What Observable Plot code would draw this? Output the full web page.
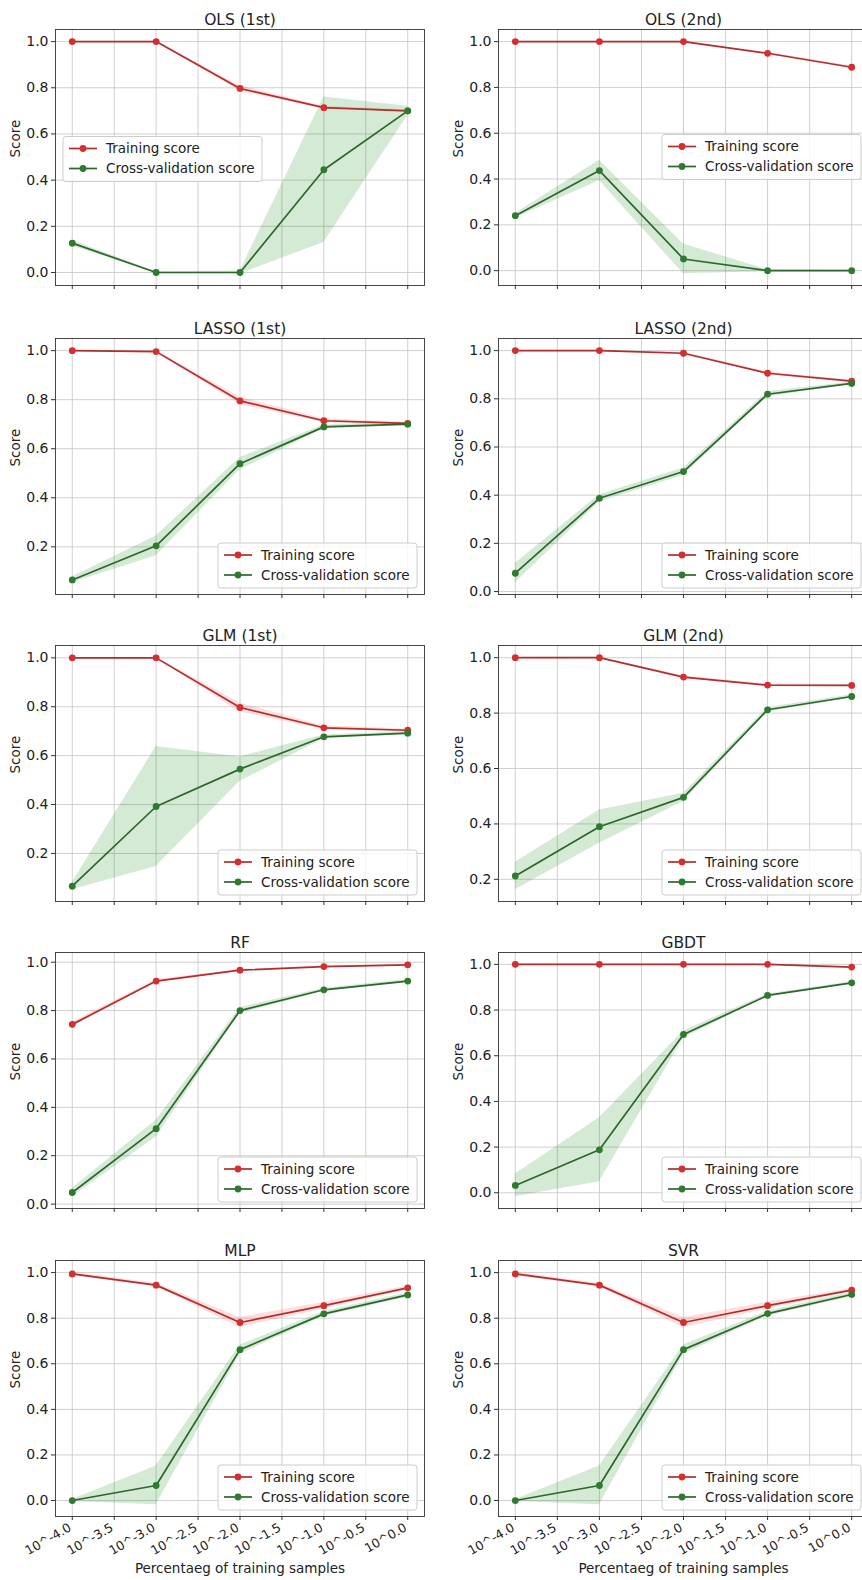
<!DOCTYPE html>
<html><head><meta charset="utf-8">
<script src="https://cdn.jsdelivr.net/npm/d3@7"></script>
<script src="https://cdn.jsdelivr.net/npm/@observablehq/plot@0.6"></script>
<style>
html,body{margin:0;padding:0;background:#fff;overflow:hidden;width:862px;height:1580px;}
#root{position:relative;width:880px;height:1580px;}
.panel{position:absolute;}
</style></head><body><div id="root"></div>
<script>
// ---- data ----
const xValues = [-4, -3, -2, -1, 0];
const xTicks = [-4, -3.5, -3, -2.5, -2, -1.5, -1, -0.5, 0];
const xTickLabels = ["10^-4.0","10^-3.5","10^-3.0","10^-2.5","10^-2.0","10^-1.5","10^-1.0","10^-0.5","10^0.0"];
const yTicks = [0, 0.2, 0.4, 0.6, 0.8, 1.0];
const seriesNames = ["Training score", "Cross-validation score"];
const xLabel = "Percentaeg of training samples";
const yLabel = "Score";

const ols1Train = [1.0, 1.0, 0.797, 0.714, 0.70];
const ols1TrainStd = [0.002, 0.002, 0.012, 0.006, 0.005];
const ols1Cv = [0.127, 0.0, 0.0, 0.445, 0.70];
const ols1CvStd = [0.012, 0.003, 0.006, 0.315, 0.02];

const ols2Train = [1.0, 1.0, 1.0, 0.949, 0.888];
const ols2TrainStd = [0.001, 0.001, 0.002, 0.004, 0.005];
const ols2Cv = [0.24, 0.437, 0.051, 0.0, 0.0];
const ols2CvStd = [0.01, 0.045, 0.065, 0.004, 0.003];

const lasso1Train = [1.0, 0.996, 0.795, 0.714, 0.703];
const lasso1TrainStd = [0.002, 0.005, 0.015, 0.008, 0.005];
const lasso1Cv = [0.065, 0.204, 0.539, 0.689, 0.70];
const lasso1CvStd = [0.012, 0.04, 0.025, 0.008, 0.006];

const lasso2Train = [1.0, 1.0, 0.989, 0.906, 0.873];
const lasso2TrainStd = [0.001, 0.002, 0.004, 0.006, 0.005];
const lasso2Cv = [0.076, 0.387, 0.498, 0.819, 0.864];
const lasso2CvStd = [0.04, 0.015, 0.015, 0.01, 0.006];

const glm1Train = [1.0, 1.0, 0.797, 0.714, 0.704];
const glm1TrainStd = [0.002, 0.003, 0.018, 0.008, 0.005];
const glm1Cv = [0.066, 0.392, 0.545, 0.677, 0.692];
const glm1CvStd = [0.015, 0.245, 0.05, 0.008, 0.006];

const glm2Train = [1.0, 1.0, 0.93, 0.901, 0.90];
const glm2TrainStd = [0.001, 0.002, 0.005, 0.004, 0.004];
const glm2Cv = [0.212, 0.39, 0.496, 0.812, 0.86];
const glm2CvStd = [0.05, 0.06, 0.015, 0.008, 0.006];

const rfTrain = [0.743, 0.922, 0.967, 0.982, 0.989];
const rfTrainStd = [0.01, 0.006, 0.004, 0.003, 0.003];
const rfCv = [0.048, 0.312, 0.80, 0.886, 0.922];
const rfCvStd = [0.018, 0.035, 0.012, 0.006, 0.006];

const gbdtTrain = [1.0, 1.0, 1.0, 1.0, 0.988];
const gbdtTrainStd = [0.001, 0.001, 0.001, 0.001, 0.002];
const gbdtCv = [0.032, 0.188, 0.693, 0.864, 0.919];
const gbdtCvStd = [0.05, 0.14, 0.015, 0.006, 0.005];

const mlpTrain = [0.994, 0.945, 0.781, 0.855, 0.933];
const mlpTrainStd = [0.008, 0.008, 0.022, 0.015, 0.008];
const mlpCv = [0.0, 0.066, 0.662, 0.819, 0.902];
const mlpCvStd = [0.004, 0.085, 0.02, 0.01, 0.01];

const svrTrain = [0.994, 0.945, 0.781, 0.855, 0.923];
const svrTrainStd = [0.008, 0.008, 0.022, 0.015, 0.008];
const svrCv = [0.0, 0.066, 0.662, 0.82, 0.904];
const svrCvStd = [0.004, 0.085, 0.02, 0.01, 0.01];

const titles = ["OLS (1st)", "OLS (2nd)", "LASSO (1st)", "LASSO (2nd)", "GLM (1st)", "GLM (2nd)", "RF", "GBDT", "MLP", "SVR"];
const legendLocs = ["center left", "center right", "lower right", "lower right", "lower right", "lower right", "lower right", "lower right", "lower right", "lower right"];

const panels = [
  [ols1Train, ols1TrainStd, ols1Cv, ols1CvStd],
  [ols2Train, ols2TrainStd, ols2Cv, ols2CvStd],
  [lasso1Train, lasso1TrainStd, lasso1Cv, lasso1CvStd],
  [lasso2Train, lasso2TrainStd, lasso2Cv, lasso2CvStd],
  [glm1Train, glm1TrainStd, glm1Cv, glm1CvStd],
  [glm2Train, glm2TrainStd, glm2Cv, glm2CvStd],
  [rfTrain, rfTrainStd, rfCv, rfCvStd],
  [gbdtTrain, gbdtTrainStd, gbdtCv, gbdtCvStd],
  [mlpTrain, mlpTrainStd, mlpCv, mlpCvStd],
  [svrTrain, svrTrainStd, svrCv, svrCvStd]
];

// ---- style ----
const redLine = "#b02e2e", redDot = "#d42f2f", redBand = "#ff0000";
const greenLine = "#2c662c", greenDot = "#2e7b30", greenBand = "#008000";
const gridColor = "#c4c4c4";
const font = "DejaVu Sans, sans-serif";

const frameTops = [29, 338, 645, 952, 1260];
const frameH = 256;

const root = document.getElementById("root");

panels.forEach((p, k) => {
  const [tr, trs, cv, cvs] = p;
  const row = Math.floor(k / 2), col = k % 2;
  const bottom = row === 4;
  const data = xValues.map((x, i) => ({
    x, train: tr[i], trLo: tr[i] - trs[i], trHi: tr[i] + trs[i],
    cv: cv[i], cvLo: cv[i] - cvs[i], cvHi: cv[i] + cvs[i]
  }));
  const lo = d3.min(data, d => Math.min(d.trLo, d.cvLo));
  const hi = d3.max(data, d => Math.max(d.trHi, d.cvHi));
  const pad = (hi - lo) * 0.05;
  const yDomain = [lo - pad, hi + pad];
  const yt = yTicks.filter(t => t >= yDomain[0] && t <= yDomain[1]);

  const marginTop = 30;
  const marginBottom = bottom ? 63 : 10;
  const marginLeft = col === 0 ? 55 : 67;
  const marginRight = col === 0 ? 6 : 10;
  const width = col === 0 ? 430 : 447;
  const height = marginTop + frameH + marginBottom;

  const marks = [
    Plot.gridX(xTicks, {stroke: gridColor, strokeOpacity: 1, strokeWidth: 0.8}),
    Plot.gridY(yt, {stroke: gridColor, strokeOpacity: 1, strokeWidth: 0.8}),
    Plot.areaY(data, {x: "x", y1: "trLo", y2: "trHi", fill: redBand, fillOpacity: 0.13}),
    Plot.areaY(data, {x: "x", y1: "cvLo", y2: "cvHi", fill: greenBand, fillOpacity: 0.17}),
    Plot.line(data, {x: "x", y: "train", stroke: redLine, strokeWidth: 1.7}),
    Plot.dot(data, {x: "x", y: "train", r: 3.4, fill: redDot}),
    Plot.line(data, {x: "x", y: "cv", stroke: greenLine, strokeWidth: 1.7}),
    Plot.dot(data, {x: "x", y: "cv", r: 3.4, fill: greenDot}),
    Plot.frame({stroke: "#333", strokeWidth: 0.9}),
    Plot.axisX(xTicks, {tickSize: 4, tickFormat: () => "", label: null, stroke: "#333"}),
    Plot.axisY(yt, {tickSize: 4, tickPadding: 3, tickFormat: d3.format(".1f"), fontSize: 14, label: null, stroke: "#333"}),
    Plot.text([yLabel], {frameAnchor: "left", rotate: -90, dx: -40, fontSize: 13.5, lineAnchor: "middle"}),
    Plot.text([titles[k]], {frameAnchor: "top", dy: -5, fontSize: 15.5, lineAnchor: "bottom"})
  ];
  if (bottom) {
    marks.push(Plot.text(xTicks, {x: d => d, text: (d, i) => xTickLabels[i], frameAnchor: "bottom",
      rotate: -30, textAnchor: "end", lineAnchor: "middle", dx: -2, dy: 10, fontSize: 12.5}));
    marks.push(Plot.text([xLabel], {frameAnchor: "bottom", dy: 52, lineAnchor: "middle", fontSize: 13.5}));
  }

  const svg = Plot.plot({
    width, height, marginTop, marginBottom, marginLeft, marginRight,
    x: {domain: [-4.2, 0.2], axis: null},
    y: {domain: yDomain, axis: null},
    style: {fontFamily: font, fontSize: "13.5px", color: "#222", background: "transparent", overflow: "visible"},
    marks
  });

  // legend
  const fl = marginLeft, fr = width - marginRight, ft = marginTop, fb = marginTop + frameH;
  const bw = 199, bh = 45;
  const loc = legendLocs[k];
  let x0, y0;
  if (loc === "lower right") { x0 = fr - 7 - bw; y0 = fb - 6 - bh; }
  else if (loc === "center left") { x0 = fl + 8; y0 = (ft + fb) / 2 - bh / 2 + 2; }
  else { x0 = fr - 7 - bw; y0 = (ft + fb) / 2 - bh / 2; }
  const g = d3.select(svg).append("g").attr("font-family", font).attr("font-size", 13.5)
    .attr("text-anchor", "start");
  g.append("rect").attr("x", x0).attr("y", y0).attr("width", bw).attr("height", bh).attr("rx", 3)
    .attr("fill", "white").attr("fill-opacity", 0.8).attr("stroke", "#cccccc").attr("stroke-width", 1);
  [[redLine, redDot], [greenLine, greenDot]].forEach(([lc, dc], i) => {
    const cy = y0 + 12 + i * 20;
    g.append("line").attr("x1", x0 + 6).attr("x2", x0 + 34).attr("y1", cy).attr("y2", cy)
      .attr("stroke", lc).attr("stroke-width", 1.7);
    g.append("circle").attr("cx", x0 + 20).attr("cy", cy).attr("r", 3.4).attr("fill", dc);
    g.append("text").attr("x", x0 + 43).attr("y", cy).attr("dy", "0.35em")
      .attr("text-anchor", "start").attr("fill", "#222").text(seriesNames[i]);
  });

  const div = document.createElement("div");
  div.className = "panel";
  div.style.left = (col === 0 ? 0 : 431) + "px";
  div.style.top = (frameTops[row] - marginTop) + "px";
  div.appendChild(svg);
  root.appendChild(div);
});
</script></body></html>
